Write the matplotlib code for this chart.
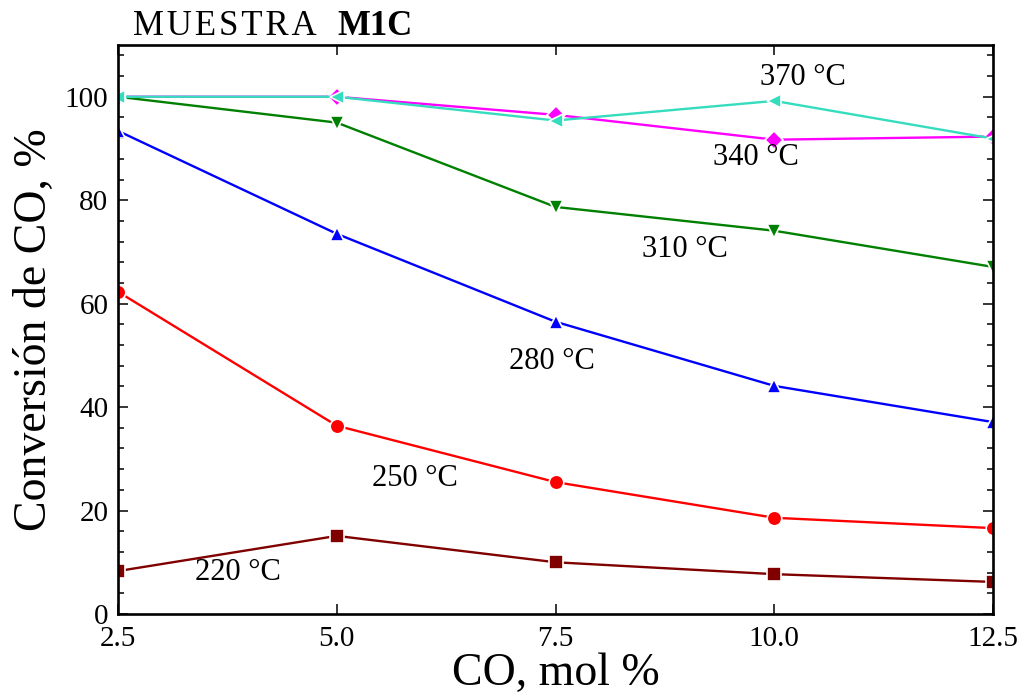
import matplotlib.pyplot as plt
from matplotlib.ticker import MultipleLocator

plt.rcParams['font.family'] = ['Liberation Serif', 'DejaVu Serif']

# CO concentration in feed, mol %
co_mol = [2.5, 5.0, 7.5, 10.0, 12.5]

# CO conversion (%) at each reaction temperature
conv_220 = [8.3, 15.1, 10.0, 7.7, 6.2]
conv_250 = [62.3, 36.4, 25.5, 18.6, 16.6]
conv_280 = [93.4, 73.5, 56.5, 44.1, 37.1]
conv_310 = [100.0, 95.0, 78.7, 74.1, 67.1]
conv_340 = [100.0, 100.0, 96.5, 91.7, 92.3]
conv_370 = [100.0, 100.0, 95.4, 99.2, 91.9]

temp_labels = ['220 °C', '250 °C', '280 °C', '310 °C', '340 °C', '370 °C']
label_pos = [(3.87, 8.1), (5.89, 26.1), (7.46, 48.9),
             (8.98, 70.4), (9.79, 88.2), (10.33, 103.7)]

series = [
    (conv_220, '#800000', 's'),
    (conv_250, '#ff0000', 'o'),
    (conv_280, '#0000ff', '^'),
    (conv_310, '#008000', 'v'),
    (conv_340, '#ff00ff', 'D'),
    (conv_370, '#35ddbe', '<'),
]

fig = plt.figure(figsize=(10.21, 6.97), dpi=100)
ax = fig.add_axes([0.1156, 0.1191, 0.857, 0.8163])

for values, color, marker in series:
    ms = 9.5 if marker == 'D' else 10.5
    ax.plot(co_mol, values, color=color, lw=1.7, marker=marker, ms=ms,
            markeredgecolor='white', markeredgewidth=1.2)

for text, (x, y) in zip(temp_labels, label_pos):
    ax.text(x, y, text, fontsize=22, ha='center', va='center')

ax.set_xlim(2.5, 12.5)
ax.set_ylim(0, 110)
ax.set_xticks(co_mol)
ax.set_xticklabels(['%.1f' % v for v in co_mol])
ax.yaxis.set_major_locator(MultipleLocator(20))
ax.yaxis.set_minor_locator(MultipleLocator(4))
ax.set_yticks(range(0, 101, 20))

ax.tick_params(which='both', direction='in', top=True, right=True,
               labelsize=21, width=1.1, pad=7)
ax.tick_params(axis='x', pad=9)
ax.tick_params(which='major', length=7)
ax.tick_params(which='minor', length=4)
for spine in ax.spines.values():
    spine.set_linewidth(1.9)

ax.set_xlabel('CO, mol %', fontsize=33, labelpad=0)
ax.set_ylabel('Conversión de CO, %', fontsize=33, labelpad=6)

# sample name, letter-spaced plain part followed by bold code
ax.text(0.017, 1.018, '\u200a'.join('MUESTRA'), transform=ax.transAxes,
        fontsize=25, ha='left', va='baseline')
ax.text(0.251, 1.018, 'M1C', transform=ax.transAxes, fontsize=25,
        fontweight='bold', ha='left', va='baseline')

fig.savefig('out.png', dpi=100)
